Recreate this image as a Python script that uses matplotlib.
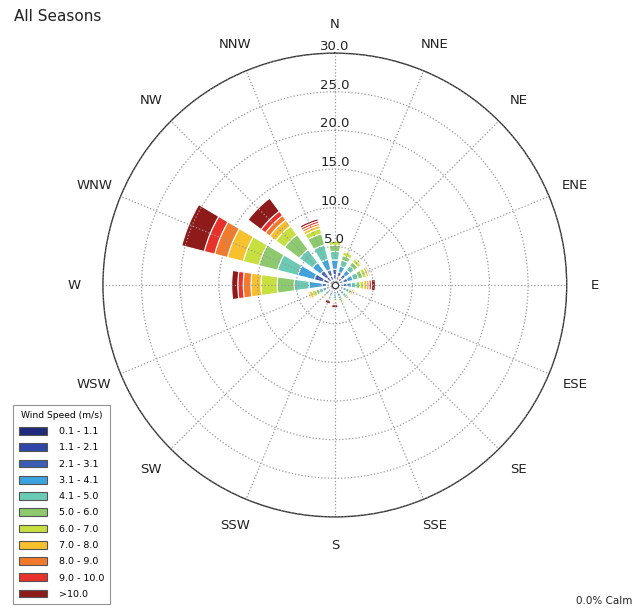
import numpy as np
import matplotlib
matplotlib.use("Agg")
import matplotlib.pyplot as plt
from matplotlib.patches import Patch

directions = ["N", "NNE", "NE", "ENE", "E", "ESE", "SE", "SSE",
              "S", "SSW", "SW", "WSW", "W", "WNW", "NW", "NNW"]
speed_bins = ["0.1 - 1.1", "1.1 - 2.1", "2.1 - 3.1", "3.1 - 4.1", "4.1 - 5.0",
              "5.0 - 6.0", "6.0 - 7.0", "7.0 - 8.0", "8.0 - 9.0", "9.0 - 10.0", ">10.0"]
bin_colors = ["#202a7c", "#2f45a8", "#3a5db5", "#3aa3e0", "#6acbb5", "#8dca6e",
              "#c7e040", "#f6c12c", "#f27a2a", "#e8312a", "#8e1a1a"]

# frequency (%) per direction, one row per direction, one column per speed bin
freq_N   = [0.4, 0.6, 0.7, 1.2, 1.1, 0.8, 0.5, 0.0, 0.0, 0.0, 0.0]
freq_NNE = [0.3, 0.5, 0.6, 0.8, 0.8, 0.6, 0.5, 0.2, 0.1, 0.0, 0.0]
freq_NE  = [0.3, 0.5, 0.6, 0.7, 0.7, 0.6, 0.5, 0.2, 0.1, 0.0, 0.0]
freq_ENE = [0.3, 0.5, 0.6, 0.7, 0.7, 0.6, 0.5, 0.3, 0.2, 0.1, 0.1]
freq_E   = [0.3, 0.4, 0.5, 0.6, 0.6, 0.5, 0.5, 0.4, 0.3, 0.3, 0.5]
freq_ESE = [0.2, 0.3, 0.3, 0.4, 0.4, 0.3, 0.3, 0.2, 0.1, 0.1, 0.0]
freq_SE  = [0.2, 0.3, 0.3, 0.4, 0.3, 0.3, 0.2, 0.1, 0.1, 0.0, 0.0]
freq_SSE = [0.2, 0.3, 0.3, 0.4, 0.3, 0.3, 0.2, 0.2, 0.1, 0.0, 0.0]
freq_S   = [0.2, 0.3, 0.3, 0.3, 0.3, 0.2, 0.2, 0.1, 0.1, 0.2, 0.4]
freq_SSW = [0.2, 0.3, 0.2, 0.3, 0.2, 0.2, 0.1, 0.1, 0.1, 0.1, 0.4]
freq_SW  = [0.2, 0.3, 0.2, 0.3, 0.3, 0.2, 0.2, 0.2, 0.1, 0.0, 0.0]
freq_WSW = [0.2, 0.3, 0.3, 0.5, 0.5, 0.4, 0.5, 0.4, 0.2, 0.1, 0.1]
freq_W   = [0.3, 0.4, 0.6, 1.7, 1.9, 2.2, 2.1, 1.3, 1.0, 0.7, 0.8]
freq_WNW = [0.4, 0.8, 1.2, 2.2, 2.7, 2.5, 2.1, 2.1, 1.7, 1.4, 3.0]
freq_NW  = [0.3, 0.7, 1.0, 1.3, 2.1, 2.4, 1.4, 1.0, 0.7, 0.7, 2.1]
freq_NNW = [0.3, 0.6, 0.8, 1.4, 1.9, 1.5, 0.7, 0.4, 0.3, 0.3, 0.3]

table = np.array([freq_N, freq_NNE, freq_NE, freq_ENE, freq_E, freq_ESE, freq_SE, freq_SSE,
                  freq_S, freq_SSW, freq_SW, freq_WSW, freq_W, freq_WNW, freq_NW, freq_NNW])
r_ticks = [5, 10, 15, 20, 25, 30]
calm_pct = 0.0

fig = plt.figure(figsize=(6.39, 6.11), dpi=100)
ax = fig.add_axes([0.161, 0.154, 0.726, 0.759], projection="polar")
ax.set_theta_zero_location("N")
ax.set_theta_direction(-1)

theta = np.deg2rad(np.arange(len(directions)) * 22.5)
width = np.deg2rad(22.5 * 0.72)
offset = 0.35
bottom = np.full(len(directions), offset)
for j in range(len(speed_bins)):
    vals = table[:, j]
    ax.bar(theta, vals, width=width, bottom=bottom, color=bin_colors[j],
           edgecolor="white", linewidth=0.8, zorder=2)
    bottom = bottom + vals

ax.set_ylim(0, 30)
ax.set_yticks(r_ticks)
ax.set_yticklabels([])
for r in r_ticks:
    ax.text(0, r, f"{r:.1f}", ha="center", va="bottom", fontsize=9.5,
            color="#222222", zorder=5)
ax.set_xticks(theta)
ax.set_xticklabels(directions, fontsize=9.5, color="#222222")
ax.tick_params(axis="x", pad=10)
ax.grid(True, linestyle=":", color="#999999", linewidth=0.9, zorder=3)
ax.set_axisbelow(False)
ax.spines["polar"].set_color("#333333")
ax.spines["polar"].set_linewidth(1.0)
ax.plot([0], [0], marker="o", markersize=4.5, markerfacecolor="white",
        markeredgecolor="#333333", markeredgewidth=0.8, zorder=6)

handles = [Patch(facecolor=c, edgecolor="#555555", linewidth=0.8) for c in bin_colors]
leg = fig.legend(handles, speed_bins, title="Wind Speed (m/s)", loc="lower left",
                 bbox_to_anchor=(0.013, 0.003), fontsize=6.8, title_fontsize=6.6,
                 frameon=True, fancybox=False, edgecolor="#777777",
                 labelspacing=0.75, handlelength=3.0, handleheight=0.9,
                 borderpad=0.6, handletextpad=1.3)
leg.get_frame().set_linewidth(0.8)

fig.text(0.022, 0.985, "All Seasons", ha="left", va="top", fontsize=11, color="#222222")
fig.text(0.99, 0.008, f"{calm_pct:.1f}% Calm", ha="right", va="bottom", fontsize=7.5,
         color="#222222")

fig.savefig("out.png", dpi=100)
